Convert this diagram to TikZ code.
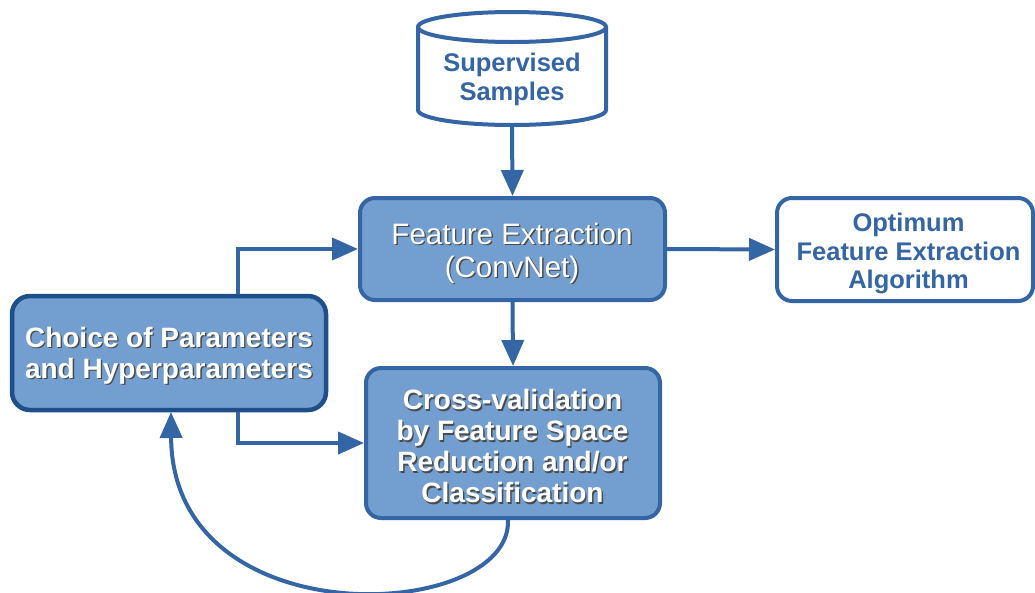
\documentclass[tikz,border=0pt]{standalone}
\usepackage{fontspec}
\setmainfont{Liberation Sans}
\usetikzlibrary{arrows.meta,calc}
\definecolor{edgeblue}{HTML}{3465A4}
\definecolor{fillblue}{HTML}{729FCF}
\definecolor{darkedge}{HTML}{1F4F8A}
\definecolor{shadowc}{HTML}{4A4A4A}
% white text with a soft drop shadow, one line at a time
\newcommand\sh[1]{\leavevmode\rlap{\kern1.4pt\raisebox{-1.4pt}{\textcolor{shadowc}{#1}}}#1}
\tikzset{
  procbox/.style={draw=edgeblue, fill=fillblue, line width=4pt, rounded corners=15pt,
    text=white, align=center, inner sep=0pt},
  outbox/.style={draw=edgeblue, fill=white, line width=4pt, rounded corners=15pt,
    inner sep=0pt},
  bluetext/.style={text=edgeblue, align=center, inner sep=0pt},
  whitetext/.style={text=white, align=center, inner sep=0pt},
  conn/.style={draw=edgeblue, line width=4pt, -{Triangle[length=26pt,width=22pt]}},
}
\begin{document}
\begin{tikzpicture}[x=1pt,y=-1pt]
\useasboundingbox (0,0) rectangle (1035,592);

% database cylinder
\draw[edgeblue, line width=4pt, fill=white]
  (418,27) -- (418,110) arc[start angle=180, end angle=360, x radius=94pt, y radius=15pt]
  -- (606,27);
\draw[edgeblue, line width=4pt] (512,27) ellipse[x radius=94pt, y radius=15pt];
\node (sup) [minimum width=188pt, minimum height=113pt, inner sep=0pt] at (512,68.5) {};
\node (suptext) [bluetext, font=\bfseries\fontsize{25.5}{29}\selectfont]
  at (512,79.5) {Supervised\\Samples};

% process boxes
\node (fe) [procbox, minimum width=305pt, minimum height=102pt] at (512.5,249) {};
\node (fetext) [whitetext, font=\fontsize{29.5}{33}\selectfont]
  at (512,254) {\sh{Feature Extraction}\\\sh{(ConvNet)}};

\node (cv) [procbox, minimum width=294pt, minimum height=150pt] at (513,443) {};
\node (cvtext) [whitetext, font=\bfseries\fontsize{28}{31}\selectfont]
  at (512.5,447) {\sh{Cross-validation}\\\sh{by Feature Space}\\\sh{Reduction and/or}\\\sh{Classification}};

\node (choice) [procbox, draw=darkedge, line width=4.5pt, rounded corners=18pt,
  minimum width=314pt, minimum height=114pt] at (169,353) {};
\node (choicetext) [whitetext, font=\bfseries\fontsize{28}{31}\selectfont]
  at (169,356.5) {\sh{Choice of Parameters}\\\sh{and Hyperparameters}};

\node (opt) [outbox, minimum width=256pt, minimum height=103pt] at (905,249.5) {};
\node (opttext) [bluetext, font=\bfseries\fontsize{25.5}{28.5}\selectfont]
  at (908.5,253.5) {Optimum\\Feature Extraction\\Algorithm};

% connectors
\coordinate (bend) at (238,0);
\draw[conn] (sup.south) -- (fe.north);
\draw[conn] (fe.east) -- (opt.west);
\draw[conn] (fe.south) -- (cv.north);
\draw[conn] (choice.north -| bend) |- (fe.west);
\draw[conn] (choice.south -| bend) |- (cv.west);
\coordinate (back) at (171,412);
\draw[conn] ($(cv.south)+(-5,0)$) .. controls (512,622) and (172,640) .. (back);
\end{tikzpicture}
\end{document}
